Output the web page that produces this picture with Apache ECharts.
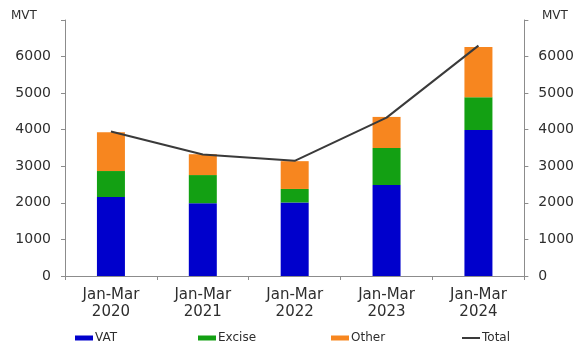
<!DOCTYPE html>
<html>
<head>
<meta charset="utf-8">
<script src="https://cdn.jsdelivr.net/npm/echarts@6/dist/echarts.min.js"></script>
<style>
  html, body { margin: 0; padding: 0; background: #fff; }
  #chart { width: 577px; height: 345px; }
</style>
</head>
<body>
<div id="chart"></div>
<script>
// Quarterly (Jan-Mar) tax revenue by type, million vatu
const categories = ['Jan-Mar\n2020', 'Jan-Mar\n2021', 'Jan-Mar\n2022', 'Jan-Mar\n2023', 'Jan-Mar\n2024'];
const vat    = [2160, 1990, 2010, 2490, 3990];
const excise = [710, 770, 370, 1010, 900];
const other  = [1060, 570, 760, 850, 1370];
const total  = [3950, 3320, 3150, 4330, 6300];
const yTicks = { min: 0, max: 7000, interval: 1000 };

const FONT = 'DejaVu Sans';
const AXIS_GRAY = '#8c8c8c';
const TEXT = '#2e2e2e';

const chart = echarts.init(document.getElementById('chart'), null, { renderer: 'canvas' });

function valueAxis(position) {
  return {
    type: 'value',
    position: position,
    min: yTicks.min, max: yTicks.max, interval: yTicks.interval,
    axisLine: { show: true, lineStyle: { color: AXIS_GRAY, width: 1 } },
    axisTick: { show: true, length: 4, inside: false, lineStyle: { color: AXIS_GRAY } },
    axisLabel: {
      show: true, margin: 14, color: TEXT, fontFamily: FONT, fontSize: 14,
      formatter: v => (v === yTicks.max ? '' : String(v))
    },
    splitLine: { show: false }
  };
}

function legendAt(name, left, iconH) {
  return {
    data: [name], left: left, top: 327,
    icon: 'rect', itemWidth: 18, itemHeight: iconH, itemGap: 2,
    textStyle: { color: TEXT, fontFamily: FONT, fontSize: 12, padding: [0, 0, 0, -3] },
    selectedMode: false
  };
}

chart.setOption({
  animation: false,
  backgroundColor: '#ffffff',
  grid: { left: 65, right: 52, top: 20, bottom: 69, containLabel: false },
  graphic: [
    { type: 'text', left: 11, top: 10, style: { text: 'MVT', fill: TEXT, font: '12px "DejaVu Sans"' } },
    { type: 'text', left: 542, top: 10, style: { text: 'MVT', fill: TEXT, font: '12px "DejaVu Sans"' } }
  ],
  legend: [
    legendAt('VAT', 70, 5),
    legendAt('Excise', 193, 5),
    legendAt('Other', 326, 5),
    legendAt('Total', 457, 2)
  ],
  xAxis: {
    type: 'category',
    data: categories,
    boundaryGap: true,
    axisLine: { show: true, lineStyle: { color: AXIS_GRAY, width: 1 } },
    axisTick: { show: true, length: 4, alignWithLabel: false, lineStyle: { color: AXIS_GRAY } },
    axisLabel: { color: TEXT, fontFamily: FONT, fontSize: 15, lineHeight: 17, margin: 11 }
  },
  yAxis: [valueAxis('left'), valueAxis('right')],
  series: [
    { name: 'VAT', type: 'bar', stack: 'tax', data: vat, barWidth: 28,
      itemStyle: { color: '#0000cc' } },
    { name: 'Excise', type: 'bar', stack: 'tax', data: excise, barWidth: 28,
      itemStyle: { color: '#13a013' } },
    { name: 'Other', type: 'bar', stack: 'tax', data: other, barWidth: 28,
      itemStyle: { color: '#f7861f' } },
    { name: 'Total', type: 'line', data: total, symbol: 'none', z: 5,
      lineStyle: { color: '#3a3a3a', width: 2 }, itemStyle: { color: '#3a3a3a' } }
  ]
});
</script>
</body>
</html>
